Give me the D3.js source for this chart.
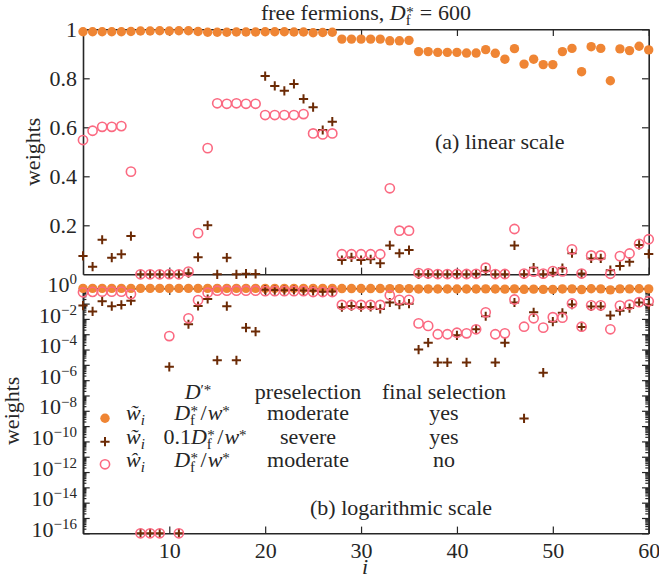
<!DOCTYPE html>
<html>
<head>
<meta charset="utf-8">
<script src="https://cdn.jsdelivr.net/npm/d3@7"></script>
<style>
  body { margin: 0; background: #fff; }
  svg { display: block; font-family: "Liberation Serif", serif; fill: #262626; }
  .axis path, .axis line { stroke: #262626; stroke-width: 1.2; }
  .axis .domain { stroke-width: 1.6; }
</style>
</head>
<body>
<svg id="chart" width="659" height="585"></svg>
<script>
const iValues = d3.range(1, 61);

const wTildeModerate = [
  0.990, 0.990, 0.990, 0.990, 0.990, 0.991, 0.993, 0.993, 0.994, 0.993,
  0.994, 0.994, 0.991, 0.988, 0.988, 0.988, 0.989, 0.989, 0.989, 0.990,
  0.990, 0.990, 0.989, 0.989, 0.986, 0.987, 0.988, 0.960, 0.960, 0.960,
  0.960, 0.960, 0.953, 0.953, 0.955, 0.909, 0.909, 0.906, 0.906, 0.906,
  0.903, 0.903, 0.917, 0.902, 0.878, 0.921, 0.858, 0.878, 0.856, 0.856,
  0.909, 0.922, 0.827, 0.929, 0.922, 0.790, 0.920, 0.913, 0.931, 0.916
];

const wTildeSevere = [
  0.075, 0.031, 0.141, 0.068, 0.082, 0.156, 1e-16, 1e-16, 1e-16, 7.5e-6,
  1e-16, 0.0045, 0.070, 0.200, 2.0e-5, 0.068, 2.0e-5, 0.0027, 0.0015, 0.809,
  0.769, 0.749, 0.777, 0.716, 0.682, 0.589, 0.623, 0.058, 0.069, 0.058,
  0.061, 0.045, 0.118, 0.086, 0.099, 1.0e-4, 2.8e-4, 1.45e-5, 1.45e-5, 8.5e-4,
  1.45e-5, 2.1e-3, 0.015, 1.45e-5, 2.8e-4, 0.118, 3.2e-9, 0.027, 3.1e-6, 0.0066,
  0.025, 0.086, 0.003, 0.065, 0.065, 0.017, 0.034, 0.051, 0.120, 0.083
];

const wHatModerate = [
  0.548, 0.586, 0.602, 0.602, 0.605, 0.419, 1e-16, 1e-16, 1e-16, 7.6e-4,
  1e-16, 0.011, 0.168, 0.515, 0.698, 0.696, 0.698, 0.696, 0.696, 0.650,
  0.650, 0.650, 0.650, 0.654, 0.575, 0.571, 0.575, 0.082, 0.082, 0.082,
  0.082, 0.082, 0.351, 0.178, 0.178, 0.0051, 0.0035, 0.001, 0.001, 0.00126,
  0.00115, 0.0021, 0.027, 0.001, 0.00115, 0.185, 0.0031, 0.011, 0.0027, 0.013,
  0.012, 0.102, 0.0031, 0.077, 0.077, 0.0021, 0.074, 0.085, 0.124, 0.143
];

const xTickValues = [10, 20, 30, 40, 50, 60];
const linTickValues = [0.2, 0.4, 0.6, 0.8, 1];
const logExponents = d3.range(-16, 1);
const logLabelExponents = d3.range(-16, 1, 2);

const colOrange = "#ef8534";
const colBrown = "#6b2a05";
const colPink = "#fb6981";
const fs = 22, fsSmall = 15;

const svg = d3.select("#chart");

const left = 83, right = 648.7;
const top1 = 29.3, bot1 = 274.3, top2 = 288.3, bot2 = 533.3;

const x = d3.scaleLinear().domain([1, 60]).range([left, right]);
const yLin = d3.scaleLinear().domain([0, 1]).range([bot1, top1]);
const yLog = d3.scaleLog().domain([1e-16, 1]).range([bot2, top2]);

const minorValues = [];
logExponents.slice(0, -1).forEach((e) => {
  d3.range(2, 10).forEach((m) => minorValues.push(m * Math.pow(10, e)));
});

// frame + x ticks for a panel
function xAxes(yTop, yBot) {
  svg.append("g").attr("class", "axis").attr("transform", `translate(0,${yBot})`)
    .call(d3.axisBottom(x).tickValues(xTickValues).tickSizeInner(-6.7).tickSizeOuter(0).tickFormat(""));
  svg.append("g").attr("class", "axis").attr("transform", `translate(0,${yTop})`)
    .call(d3.axisTop(x).tickValues(xTickValues).tickSizeInner(-6.7).tickSizeOuter(0).tickFormat(""));
}
const styleLabels = (g) => g.selectAll("text").attr("font-size", fs)
  .attr("font-family", "Liberation Serif").attr("fill", "#262626");

// ---- panel (a) axes
xAxes(top1, bot1);
svg.append("g").attr("class", "axis").attr("transform", `translate(${left},0)`)
  .call(d3.axisLeft(yLin).tickValues(linTickValues).tickSizeInner(-6.7).tickSizeOuter(0).tickPadding(6)
    .tickFormat((d) => (d === 1 ? "1" : d3.format(".1f")(d))))
  .call(styleLabels);
svg.append("g").attr("class", "axis").attr("transform", `translate(${right},0)`)
  .call(d3.axisRight(yLin).tickValues(linTickValues).tickSizeInner(-6.7).tickSizeOuter(0).tickFormat(""));

// ---- panel (b) axes
xAxes(top2, bot2);
svg.append("g").attr("class", "axis").attr("transform", `translate(0,${bot2})`)
  .call(d3.axisBottom(x).tickValues(xTickValues).tickSize(0).tickPadding(9))
  .call((g) => g.select(".domain").remove())
  .call(styleLabels);

const majorVals = logExponents.map((e) => Math.pow(10, e));
svg.append("g").attr("class", "axis").attr("transform", `translate(${left},0)`)
  .call(d3.axisLeft(yLog).tickValues(majorVals).tickSizeInner(-6.7).tickSizeOuter(0).tickFormat(""));
svg.append("g").attr("class", "axis").attr("transform", `translate(${left},0)`)
  .call(d3.axisLeft(yLog).tickValues(minorValues).tickSizeInner(-3.4).tickSizeOuter(0).tickFormat(""));
svg.append("g").attr("class", "axis").attr("transform", `translate(${right},0)`)
  .call(d3.axisRight(yLog).tickValues(majorVals).tickSizeInner(-6.7).tickSizeOuter(0).tickFormat(""));
svg.append("g").attr("class", "axis").attr("transform", `translate(${right},0)`)
  .call(d3.axisRight(yLog).tickValues(minorValues).tickSizeInner(-3.4).tickSizeOuter(0).tickFormat(""));

const logLab = svg.append("g").attr("font-size", fs);
logLabelExponents.forEach((e) => {
  const t = logLab.append("text").attr("x", 77).attr("y", yLog(Math.pow(10, e)) + 3.6).attr("text-anchor", "end");
  t.append("tspan").text("10");
  t.append("tspan").attr("font-size", fsSmall).attr("dy", -7.8).text(e === 0 ? "0" : "\u2212" + (-e));
});

// ---- markers
function drawMarkers(y, val) {
  const g = svg.append("g");
  g.selectAll("circle.dot").data(iValues).join("circle").attr("class", "dot")
    .attr("cx", (d) => x(d)).attr("cy", (d, k) => y(val(wTildeModerate[k])))
    .attr("r", 4.7).attr("fill", colOrange);
  g.selectAll("path.cross").data(iValues).join("path").attr("class", "cross")
    .attr("d", (d, k) => {
      const cx = x(d), cy = y(val(wTildeSevere[k]));
      return `M${cx - 4.6},${cy}H${cx + 4.6}M${cx},${cy - 4.6}V${cy + 4.6}`;
    })
    .attr("stroke", colBrown).attr("stroke-width", 2).attr("fill", "none");
  g.selectAll("circle.ring").data(iValues).join("circle").attr("class", "ring")
    .attr("cx", (d) => x(d)).attr("cy", (d, k) => y(val(wHatModerate[k])))
    .attr("r", 4.6).attr("fill", "none").attr("stroke", colPink).attr("stroke-width", 1.6);
}
drawMarkers(yLin, (v) => (v <= 1e-16 ? 0 : v));
drawMarkers(yLog, (v) => Math.max(v, 1e-16));

// ---- text helpers
function mathText(parent, xPos, yPos, anchor, parts) {
  const t = parent.append("text").attr("x", xPos).attr("y", yPos).attr("text-anchor", anchor);
  let shift = 0;
  parts.forEach((p) => {
    const s = p.shift || 0;
    const ts = t.append("tspan").text(p.t).attr("dy", s - shift);
    if (p.dx) ts.attr("dx", p.dx);
    if (p.it) ts.attr("font-style", "italic");
    if (p.size) ts.attr("font-size", p.size);
    shift = s;
  });
  return t;
}
const Dfstar = [
  { t: "D", it: 1 },
  { t: "f", shift: 5, size: fsSmall },
  { t: "*", shift: -3.5, size: fsSmall, dx: -4.5 }
];
const overW = [{ t: "/", shift: 0, dx: 2.5 }, { t: "w", it: 1, dx: 1 }, { t: "*", shift: -3.5, size: fsSmall }];

const txt = svg.append("g").attr("font-size", fs);

mathText(txt, 366, 20, "middle", [
  { t: "free fermions, " }, ...Dfstar,
  { t: "=", shift: 0, dx: 6 }, { t: "600", dx: 6 }
]);

txt.append("text").attr("x", 435).attr("y", 149).text("(a) linear scale");
txt.append("text").attr("x", 310).attr("y", 515).text("(b) logarithmic scale");

txt.append("text").attr("transform", "translate(39.5,151.8) rotate(-90)").attr("text-anchor", "middle").text("weights");
txt.append("text").attr("transform", "translate(19,410.8) rotate(-90)").attr("text-anchor", "middle").text("weights");
txt.append("text").attr("x", 365).attr("y", 574).attr("text-anchor", "middle").attr("font-style", "italic").text("i");

// ---- legend
mathText(txt, 198, 398.5, "middle", [{ t: "D", it: 1 }, { t: "\u2032*", shift: -3.5, size: fsSmall }]);
txt.append("text").attr("x", 308).attr("y", 398.5).attr("text-anchor", "middle").text("preselection");
txt.append("text").attr("x", 444).attr("y", 398.5).attr("text-anchor", "middle").text("final selection");

const rowY = [419.5, 443.5, 466.5];
const markY = [418.3, 441.7, 464.3];
const leg = svg.append("g");
leg.append("circle").attr("cx", 105).attr("cy", markY[0]).attr("r", 4.7).attr("fill", colOrange);
leg.append("path").attr("d", `M${105 - 4.6},${markY[1]}H${105 + 4.6}M105,${markY[1] - 4.6}V${markY[1] + 4.6}`)
  .attr("stroke", colBrown).attr("stroke-width", 2);
leg.append("circle").attr("cx", 105).attr("cy", markY[2]).attr("r", 4.6).attr("fill", "none")
  .attr("stroke", colPink).attr("stroke-width", 1.6);

const wSym = ["w\u0303", "w\u0303", "w\u0302"];
const dCol = [
  [...Dfstar, ...overW],
  [{ t: "0.1" }, ...Dfstar, ...overW],
  [...Dfstar, ...overW]
];
const dColX = [202, 205, 202];
const preCol = ["moderate", "severe", "moderate"];
const finCol = ["yes", "yes", "no"];
rowY.forEach((ry, k) => {
  mathText(txt, 126, ry, "start", [{ t: wSym[k], it: 1 }, { t: "i", it: 1, shift: 5, size: fsSmall }]);
  mathText(txt, dColX[k], ry, "middle", dCol[k]);
  txt.append("text").attr("x", 308).attr("y", ry).attr("text-anchor", "middle").text(preCol[k]);
  txt.append("text").attr("x", 444).attr("y", ry).attr("text-anchor", "middle").text(finCol[k]);
});
</script>
</body>
</html>
